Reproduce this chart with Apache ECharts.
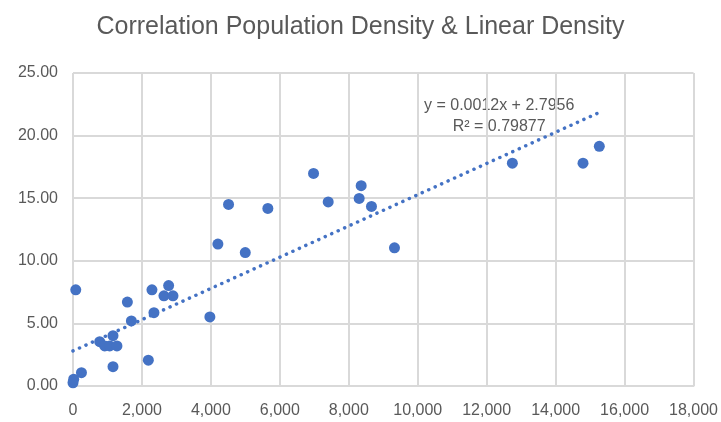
<!DOCTYPE html>
<html>
<head>
<meta charset="utf-8">
<script src="https://cdn.jsdelivr.net/npm/echarts@6/dist/echarts.min.js"></script>
<style>
  html, body { margin: 0; padding: 0; background: #fff; }
  #chart { width: 721px; height: 422px; }
</style>
</head>
<body>
<div id="chart"></div>
<script>
// population density (x) vs linear density (y)
const popDensity = [0, 20, 245, 80, 775, 920, 1065, 1160, 1275, 1160, 1577, 1693, 2185, 2290, 2348, 2638, 2774, 2900, 3970, 4203, 4512, 4997, 5652, 6977, 7403, 8301, 8359, 8658, 9325, 12745, 14794, 15267];
const linDensity = [0.26, 0.54, 1.06, 7.68, 3.54, 3.2, 3.2, 4.02, 3.2, 1.54, 6.7, 5.2, 2.06, 7.68, 5.86, 7.2, 8.02, 7.2, 5.52, 11.34, 14.5, 10.66, 14.18, 16.98, 14.7, 14.98, 16.0, 14.34, 11.04, 17.8, 17.8, 19.14];

// trendline ends (as drawn by the spreadsheet)
const trendX = [0, 15267];
const trendY = [2.8, 21.85];
const trendLabel = 'y = 0.0012x + 2.7956\nR² = 0.79877';

const chartTitle = 'Correlation Population Density & Linear Density';

const points = popDensity.map((x, i) => [x, linDensity[i]]);
const trend = trendX.map((x, i) => [x, trendY[i]]);

const chart = echarts.init(document.getElementById('chart'));
const grey = '#595959';
const gridColor = '#d9d9d9';
const font = '"Liberation Sans", "Noto Sans", sans-serif';

chart.setOption({
  animation: false,
  backgroundColor: '#fff',
  title: {
    text: chartTitle,
    left: 'center',
    top: 10,
    textStyle: { color: grey, fontSize: 25, fontWeight: 'normal', fontFamily: font }
  },
  grid: { left: 73, right: 27, top: 73, bottom: 36 },
  xAxis: {
    type: 'value',
    min: 0, max: 18000, interval: 2000,
    axisLine: { show: true, lineStyle: { color: gridColor, width: 2 } },
    axisTick: { show: false },
    splitLine: { show: true, lineStyle: { color: gridColor, width: 2 } },
    axisLabel: {
      color: grey, fontSize: 16, fontFamily: font, margin: 17,
      formatter: v => v.toLocaleString('en-US')
    }
  },
  yAxis: {
    type: 'value',
    min: 0, max: 25, interval: 5,
    axisLine: { show: false },
    axisTick: { show: false },
    splitLine: { show: true, lineStyle: { color: gridColor, width: 2 } },
    axisLabel: {
      color: grey, fontSize: 16, fontFamily: font, margin: 15,
      padding: [6, 0, 0, 0],
      formatter: v => v.toFixed(2)
    }
  },
  series: [
    {
      type: 'line',
      data: trend,
      symbol: 'none',
      z: 3,
      lineStyle: { color: '#4472C4', width: 3.5, type: [0.1, 7], cap: 'round' }
    },
    {
      type: 'scatter',
      data: points,
      symbolSize: 11,
      z: 4,
      itemStyle: { color: '#4472C4', opacity: 1 }
    }
  ],
  graphic: [{
    type: 'text',
    left: 424,
    top: 95,
    style: {
      text: trendLabel,
      fill: grey,
      font: '16px ' + font,
      textAlign: 'center',
      lineHeight: 21
    }
  }]
});
</script>
</body>
</html>
